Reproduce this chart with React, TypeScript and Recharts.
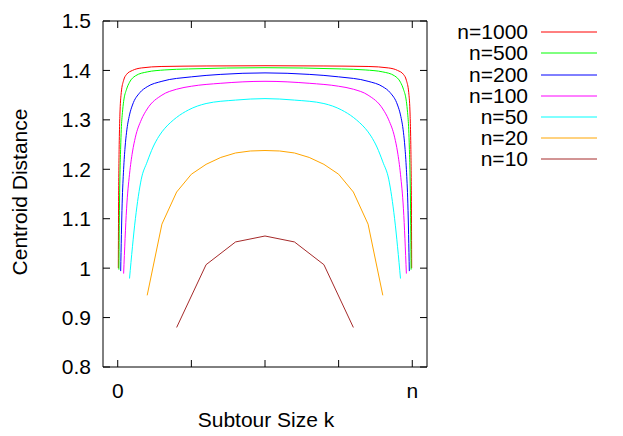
import { LineChart, Line, XAxis, YAxis } from 'recharts';

// subtour sizes k (per series) and centroid distances
const n10K = [2, 3, 4, 5, 6, 7, 8];
const n10V = [0.88, 1.007, 1.053, 1.065, 1.053, 1.007, 0.88];

const n20K = [2, 3, 4, 5, 6, 7, 8, 9, 10, 11, 12, 13, 14, 15, 16, 17, 18];
const n20V = [0.945, 1.089, 1.154, 1.19, 1.21, 1.224, 1.233, 1.237, 1.238, 1.237, 1.233, 1.224, 1.21, 1.19, 1.154, 1.089, 0.945];

const n50K = [2, 3, 4, 5, 6, 7, 8, 9, 10, 12, 15, 20, 25, 30, 35, 38, 40, 41, 42, 43, 44, 45, 46, 47, 48];
const n50V = [0.979, 1.1, 1.18, 1.215, 1.245, 1.267, 1.283, 1.295, 1.305, 1.32, 1.333, 1.34, 1.343, 1.34, 1.333, 1.32, 1.305, 1.295, 1.283, 1.267, 1.245, 1.215, 1.18, 1.1, 0.979];

const n100K = [2, 3, 4, 5, 6, 8, 10, 15, 20, 25, 35, 50, 65, 75, 80, 85, 90, 92, 94, 95, 96, 97, 98];
const n100V = [0.989, 1.12, 1.19, 1.235, 1.265, 1.3, 1.322, 1.35, 1.362, 1.368, 1.374, 1.378, 1.374, 1.368, 1.362, 1.35, 1.322, 1.3, 1.265, 1.235, 1.19, 1.12, 0.989];

const n200K = [2, 3, 4, 5, 6, 8, 10, 15, 20, 30, 50, 70, 100, 130, 150, 170, 180, 185, 190, 192, 194, 195, 196, 197, 198];
const n200V = [0.994, 1.13, 1.2, 1.245, 1.275, 1.31, 1.33, 1.355, 1.367, 1.378, 1.387, 1.392, 1.395, 1.392, 1.387, 1.378, 1.367, 1.355, 1.33, 1.31, 1.275, 1.245, 1.2, 1.13, 0.994];

const n500K = [2, 3, 4, 5, 6, 8, 10, 15, 20, 30, 50, 80, 120, 250, 380, 420, 450, 470, 480, 485, 490, 492, 494, 495, 496, 497, 498];
const n500V = [0.997, 1.13, 1.2, 1.245, 1.28, 1.315, 1.337, 1.362, 1.376, 1.389, 1.397, 1.401, 1.403, 1.4055, 1.403, 1.401, 1.397, 1.389, 1.376, 1.362, 1.337, 1.315, 1.28, 1.245, 1.2, 1.13, 0.997];

const n1000K = [2, 3, 4, 5, 6, 8, 12, 20, 30, 50, 80, 150, 300, 500, 700, 850, 920, 950, 970, 980, 988, 992, 994, 995, 996, 997, 998];
const n1000V = [1.0, 1.135, 1.205, 1.25, 1.28, 1.32, 1.355, 1.38, 1.392, 1.4, 1.405, 1.408, 1.409, 1.4095, 1.409, 1.408, 1.405, 1.4, 1.392, 1.38, 1.355, 1.32, 1.28, 1.25, 1.205, 1.135, 1.0];

const xTicks = [0, 0.25, 0.5, 0.75, 1];
const xTickLabels = ['0', '', '', '', 'n'];
const yTicks = [0.8, 0.9, 1.0, 1.1, 1.2, 1.3, 1.4, 1.5];

const series = [
  { name: 'n=1000', n: 1000, k: n1000K, v: n1000V, color: '#ff0000', curve: 'monotone' },
  { name: 'n=500', n: 500, k: n500K, v: n500V, color: '#00ff00', curve: 'monotone' },
  { name: 'n=200', n: 200, k: n200K, v: n200V, color: '#0000ff', curve: 'monotone' },
  { name: 'n=100', n: 100, k: n100K, v: n100V, color: '#ff00ff', curve: 'monotone' },
  { name: 'n=50', n: 50, k: n50K, v: n50V, color: '#00ffff', curve: 'monotone' },
  { name: 'n=20', n: 20, k: n20K, v: n20V, color: '#ffa500', curve: 'linear' },
  { name: 'n=10', n: 10, k: n10K, v: n10V, color: '#a52a2a', curve: 'linear' },
];

const FONT = '"Liberation Sans", Arial, sans-serif';
const FS = 21;
const tickStyle = { fill: '#000', fontSize: FS, fontFamily: FONT };

const toPoints = (s: (typeof series)[number]) => s.k.map((k, i) => ({ x: k / s.n, y: s.v[i] }));

function KeyBox() {
  return (
    <div style={{ position: 'absolute', left: 430, top: 20, width: 180, height: 160, fontFamily: FONT, fontSize: FS }}>
      {series.map((s, i) => {
        const cy = 12.3 + i * 21.1;
        return (
          <div key={s.name}>
            <div style={{ position: 'absolute', left: 0, width: 98, top: cy - 11, lineHeight: '22px', textAlign: 'right', color: '#000' }}>
              {s.name}
            </div>
            <svg style={{ position: 'absolute', left: 111, top: cy - 2 }} width={56} height={4}>
              <line x1={0} x2={56} y1={2} y2={2} stroke={s.color} strokeWidth={1} />
            </svg>
          </div>
        );
      })}
    </div>
  );
}

export default function App() {
  return (
    <div style={{ position: 'absolute', left: 0, top: 0, width: 623, height: 436, background: '#fff' }}>
      <LineChart width={623} height={436} margin={{ top: 20, right: 195, bottom: 0, left: 0 }}>
        <XAxis
          type="number"
          dataKey="x"
          domain={[-0.05, 1.05]}
          ticks={xTicks}
          allowDataOverflow
          height={69}
          stroke="#000"
          tickSize={-7}
          tickMargin={23}
          tick={tickStyle}
          tickFormatter={(v: number) => xTickLabels[xTicks.indexOf(v)] ?? ''}
        />
        <XAxis
          xAxisId="t"
          orientation="top"
          type="number"
          dataKey="x"
          domain={[-0.05, 1.05]}
          ticks={xTicks}
          allowDataOverflow
          height={1}
          stroke="#000"
          tickSize={-7}
          tickFormatter={() => ''}
        />
        <YAxis
          type="number"
          domain={[0.8, 1.5]}
          ticks={yTicks}
          allowDataOverflow
          width={103}
          stroke="#000"
          tickSize={-7}
          tickMargin={19}
          tick={tickStyle}
          tickFormatter={(v: number) => String(Math.round(v * 10) / 10)}
        />
        <YAxis
          yAxisId="r"
          orientation="right"
          type="number"
          domain={[0.8, 1.5]}
          ticks={yTicks}
          allowDataOverflow
          width={1}
          stroke="#000"
          tickSize={-7}
          tickFormatter={() => ''}
        />
        {series.map((s) => (
          <Line
            key={s.name}
            name={s.name}
            data={toPoints(s)}
            dataKey="y"
            type={s.curve as 'monotone' | 'linear'}
            stroke={s.color}
            strokeWidth={1}
            dot={false}
            activeDot={false}
            isAnimationActive={false}
          />
        ))}
        {/* invisible copy so the mirrored top/right axes get drawn */}
        <Line
          xAxisId="t"
          yAxisId="r"
          data={toPoints(series[0])}
          dataKey="y"
          stroke="none"
          dot={false}
          activeDot={false}
          legendType="none"
          isAnimationActive={false}
        />
      </LineChart>
      <KeyBox />
      <div style={{ position: 'absolute', left: 166, width: 200, top: 409, lineHeight: '22px', textAlign: 'center', fontFamily: FONT, fontSize: FS }}>
        Subtour Size k
      </div>
      <div style={{ position: 'absolute', left: 19.6 - 150, width: 300, top: 192 - 11, lineHeight: '22px', textAlign: 'center', fontFamily: FONT, fontSize: FS, transform: 'rotate(-90deg)' }}>
        Centroid Distance
      </div>
    </div>
  );
}
